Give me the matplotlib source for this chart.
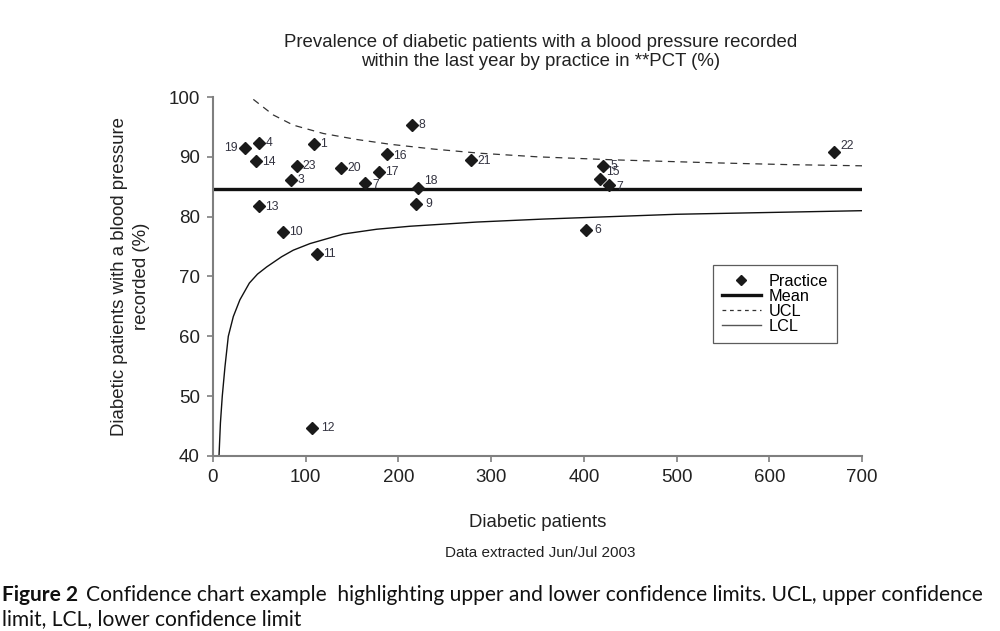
import matplotlib
matplotlib.use("Agg")
import matplotlib.pyplot as plt
from matplotlib.lines import Line2D

plt.rcParams['font.family'] = ['Liberation Sans', 'DejaVu Sans']

# ---- data ----
practice_ids = ["1", "3", "4", "5", "6", "7", "7", "8", "9", "10", "11", "12",
                "13", "14", "15", "16", "17", "18", "19", "20", "21", "22", "23"]
patients = [108.6, 84.1, 49.9, 421.0, 402.0, 164.3, 427.4, 214.7, 219.0, 75.2,
            112.2, 106.8, 49.3, 46.4, 417.5, 187.4, 179.4, 221.5, 34.5, 138.4,
            278.3, 670.2, 91.0]
percent = [92.1, 86.2, 92.3, 88.5, 77.7, 85.6, 85.3, 95.3, 82.2, 77.4,
           73.7, 44.7, 81.8, 89.3, 86.3, 90.4, 87.5, 84.8, 91.5, 88.1,
           89.5, 90.8, 88.4]
mean_value = 84.6

ucl_n = [43.5, 65, 86.6, 119, 155, 191, 237.6, 288, 350, 431.8, 539.7, 620, 700]
ucl_pct = [99.6, 97.0, 95.3, 93.9, 92.9, 92.1, 91.3, 90.6, 90.0, 89.5, 89.0, 88.7, 88.5]

lcl_n = [6.5, 8, 10, 12.9, 16.5, 21.9, 29, 39.2, 48, 57.9, 74, 86.6, 104.6, 140.6,
         176.6, 212.5, 284.4, 356.3, 428.2, 500, 600, 700]
lcl_pct = [40.1, 45.5, 50.0, 54.9, 60.0, 63.3, 66.1, 68.9, 70.4, 71.6, 73.3, 74.4, 75.5, 77.1,
           77.9, 78.4, 79.1, 79.6, 80.0, 80.4, 80.7, 81.0]

x_ticks = [0, 100, 200, 300, 400, 500, 600, 700]
y_ticks = [40, 50, 60, 70, 80, 90, 100]

# ---- label offsets (points) ----
label_offsets = {
    0: (4.5, 0, 'left'), 1: (4.5, 0, 'left'), 2: (4.5, 0, 'left'), 3: (5, 0, 'left'),
    4: (6.5, 0, 'left'), 5: (5, -1, 'left'), 6: (5, -1.5, 'left'), 7: (4.5, 0, 'left'),
    8: (6.5, 0, 'left'), 9: (4.5, 0, 'left'), 10: (4.5, 0, 'left'), 11: (6.5, 0, 'left'),
    12: (4.5, -1, 'left'), 13: (4.5, -1, 'left'), 14: (4.5, 5.2, 'left'), 15: (4.5, -1, 'left'),
    16: (4.5, 0, 'left'), 17: (4.5, 5, 'left'), 18: (-5, 0, 'right'), 19: (4.5, 0, 'left'),
    20: (4.5, -1, 'left'), 21: (4.5, 4, 'left'), 22: (4, 0, 'left'),
}

fig = plt.figure(figsize=(10, 6.31), dpi=100)
ax = fig.add_axes([0.213, 1 - 456 / 631, 0.649, (456 - 97) / 631])

grey = '#7f7f7f'
ax.plot([x_ticks[0], x_ticks[-1]], [mean_value, mean_value], color='#111111', lw=2.4, zorder=2)
ax.plot(ucl_n, ucl_pct, color='#333333', lw=0.9, dashes=(5.5, 4.5), zorder=2)
ax.plot(lcl_n, lcl_pct, color='#111111', lw=1.0, zorder=2)
ax.plot(patients, percent, linestyle='none', marker='D', ms=5.8, color='#1a1a1a', zorder=3)

for i, (lab, xv, yv) in enumerate(zip(practice_ids, patients, percent)):
    dx, dy, ha = label_offsets[i]
    ax.annotate(lab, (xv, yv), xytext=(dx, dy), textcoords='offset points',
                ha=ha, va='center', fontsize=8.8, color='#333340')

ax.set_xlim(0, 700)
ax.set_ylim(40, 100)
ax.set_xticks(x_ticks)
ax.set_yticks(y_ticks)
for s in ['top', 'right']:
    ax.spines[s].set_visible(False)
for s in ['left', 'bottom']:
    ax.spines[s].set_color(grey)
    ax.spines[s].set_linewidth(1.5)
ax.tick_params(axis='both', colors=grey, length=4.5, width=1.2, labelsize=13.5,
               labelcolor='#222222', pad=5)

ax.set_xlabel('Diabetic patients', fontsize=13.4, color='#222222', labelpad=20)
ax.set_ylabel('Diabetic patients with a blood pressure\nrecorded (%)', fontsize=13.4,
              color='#222222', labelpad=13, linespacing=1.4)

fig.text(0.5405, 1 - 52 / 631, 'Prevalence of diabetic patients with a blood pressure recorded\n'
         'within the last year by practice in **PCT (%)', ha='center', va='center',
         fontsize=13.4, color='#222222', linespacing=1.2)

fig.text(0.5405, 1 - 553 / 631, 'Data extracted Jun/Jul 2003', ha='center', va='center',
         fontsize=11, color='#222222')

handles = [
    Line2D([], [], linestyle='none', marker='D', ms=5.5, color='#1a1a1a'),
    Line2D([], [], color='#111111', lw=2.4),
    Line2D([], [], color='#333333', lw=0.9, dashes=(3, 3)),
    Line2D([], [], color='#555555', lw=1.0),
]
leg = ax.legend(handles, ['Practice', 'Mean', 'UCL', 'LCL'],
                loc='upper left', bbox_to_anchor=((713 - 213) / 649, (456 - 265) / 359),
                fontsize=11.7, frameon=True, fancybox=False, borderpad=0.55,
                labelspacing=0.0, handlelength=2.4, handletextpad=0.5,
                borderaxespad=0)
leg.get_frame().set_edgecolor('#333333')
leg.get_frame().set_linewidth(0.9)

cap_font = ['Lato', 'DejaVu Sans']
fig.text(0.002, 1 - 595 / 631, 'Figure 2', ha='left', va='center', fontsize=15,
         fontweight='bold', family=cap_font, color='#111111')
fig.text(0.086, 1 - 595 / 631,
         'Confidence chart example  highlighting upper and lower confidence limits. UCL, upper confidence',
         ha='left', va='center', fontsize=15.1, family=cap_font, color='#111111')
fig.text(0.002, 1 - 619 / 631, 'limit, LCL, lower confidence limit', ha='left', va='center',
         fontsize=15.1, family=cap_font, color='#111111')

fig.savefig('out.png', dpi=100)
